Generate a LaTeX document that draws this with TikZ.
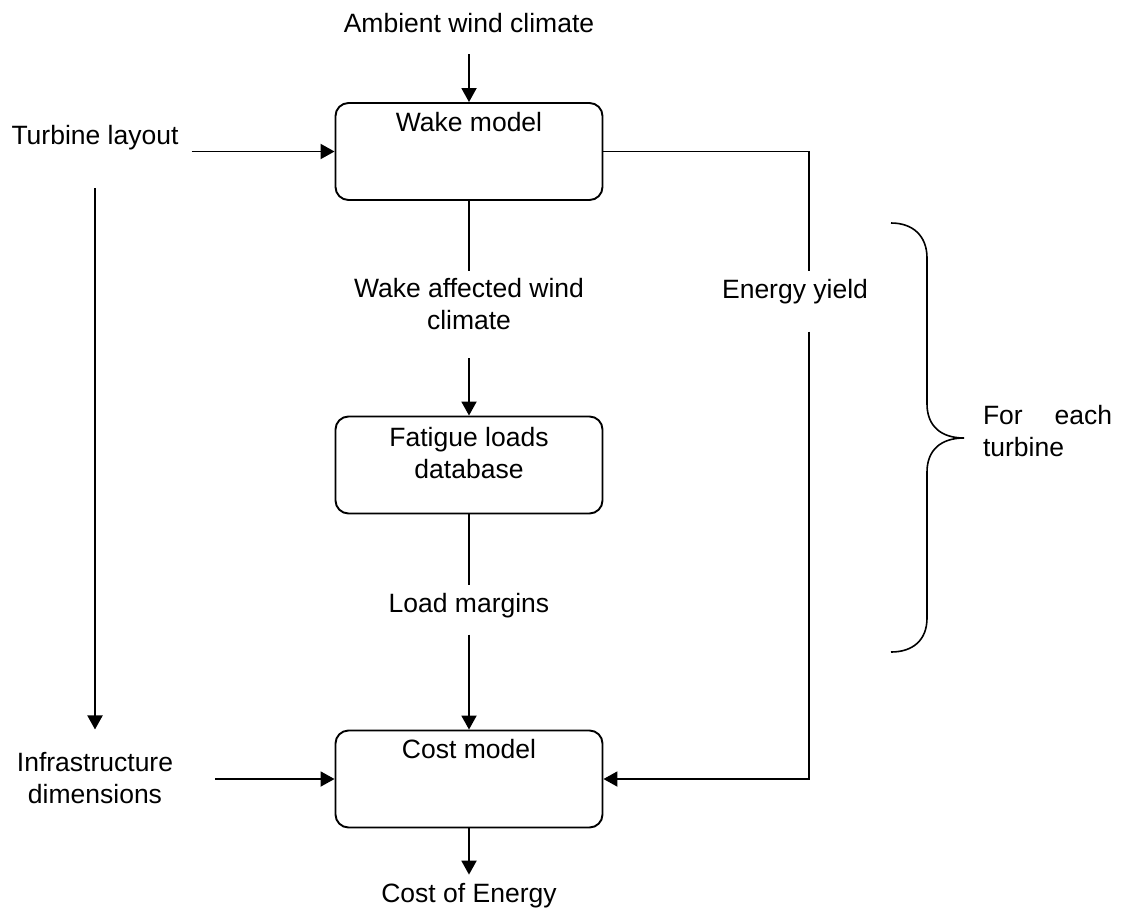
\documentclass[tikz,border=0pt]{standalone}
\usepackage{fontspec}
\setmainfont{Liberation Sans}
\usetikzlibrary{arrows.meta}

\tikzset{
  box/.style={draw, line width=1.9pt, rounded corners=13pt,
    minimum width=267pt, minimum height=97pt, inner sep=0pt},
  lbl/.style={inner sep=0pt, font=\fontsize{26.5}{32}\selectfont},
  line/.style={line width=1.9pt},
  arr/.style={line width=1.9pt, -{Triangle[length=14pt,width=15pt]}},
}

\begin{document}
\begin{tikzpicture}[x=1pt,y=-1pt]
  \useasboundingbox (0,0) rectangle (1121,913);
  % the three model boxes
  \foreach \n/\y in {wake/151.5,fatigue/465,cost/779}{
    \node[box] (\n) at (469,\y) {};}
  \node[lbl,anchor=base] (wakelbl) at (469,131) {Wake model};
  \node[lbl,align=center] (fatiguelbl) at (469,453.4) {Fatigue loads\\database};
  \node[lbl,anchor=base] (costlbl) at (469,758) {Cost model};

  % inputs and outputs
  \node[lbl,anchor=base] (ambient) at (469,32) {Ambient wind climate};
  \node[lbl,anchor=base] (turbine) at (95,144) {Turbine layout};
  \node[lbl,align=center] (infra) at (95,778.4) {Infrastructure\\dimensions};
  \node[lbl,align=center] (wakeaff) at (469,304.3) {Wake affected wind\\climate};
  \node[lbl,anchor=base] (energy) at (795,298) {Energy yield};
  \node[lbl,anchor=base] (loadm) at (469,612) {Load margins};
  \node[lbl,anchor=base] (coe) at (469,902) {Cost of Energy};
  \node[lbl,text width=129pt,align=justify] (perturb) at (1047.5,431.3)
    {\noindent For each turbine};

  \draw[arr] ([yshift=-22pt]ambient.base) -- (wake.north);
  \draw[arr] ([xshift=13pt]turbine.east |- wake.west) -- (wake.west);
  \draw[arr] ([yshift=-44pt]turbine.base) -- ([yshift=23pt]infra.north);
  \draw[arr] ([xshift=42pt]infra.east |- cost.west) -- (cost.west);
  \draw[line] (wake.south) -- ([yshift=7pt]wakeaff.north);
  \draw[arr] ([yshift=-28pt]wakeaff.south) -- (fatigue.north);
  \draw[line] (fatigue.south) -- ([yshift=8pt]loadm.north);
  \draw[arr] ([yshift=-17pt]loadm.south) -- (cost.north);
  \draw[arr] (cost.south) -- ([yshift=8pt]coe.north);
  \draw[line] (wake.east) -| ([xshift=14pt,yshift=8pt]energy.north);
  \draw[arr] ([xshift=14pt,yshift=-28pt]energy.south) |- (cost.east);

  % brace
  \draw[line width=1.6pt] (891,223) .. controls (913,223) and (927,236) .. (927,258)
    -- (927,404) .. controls (927,426) and (941,438) .. (964,438)
    .. controls (941,438) and (927,450) .. (927,472)
    -- (927,618) .. controls (927,640) and (913,652) .. (891,652);
\end{tikzpicture}
\end{document}
